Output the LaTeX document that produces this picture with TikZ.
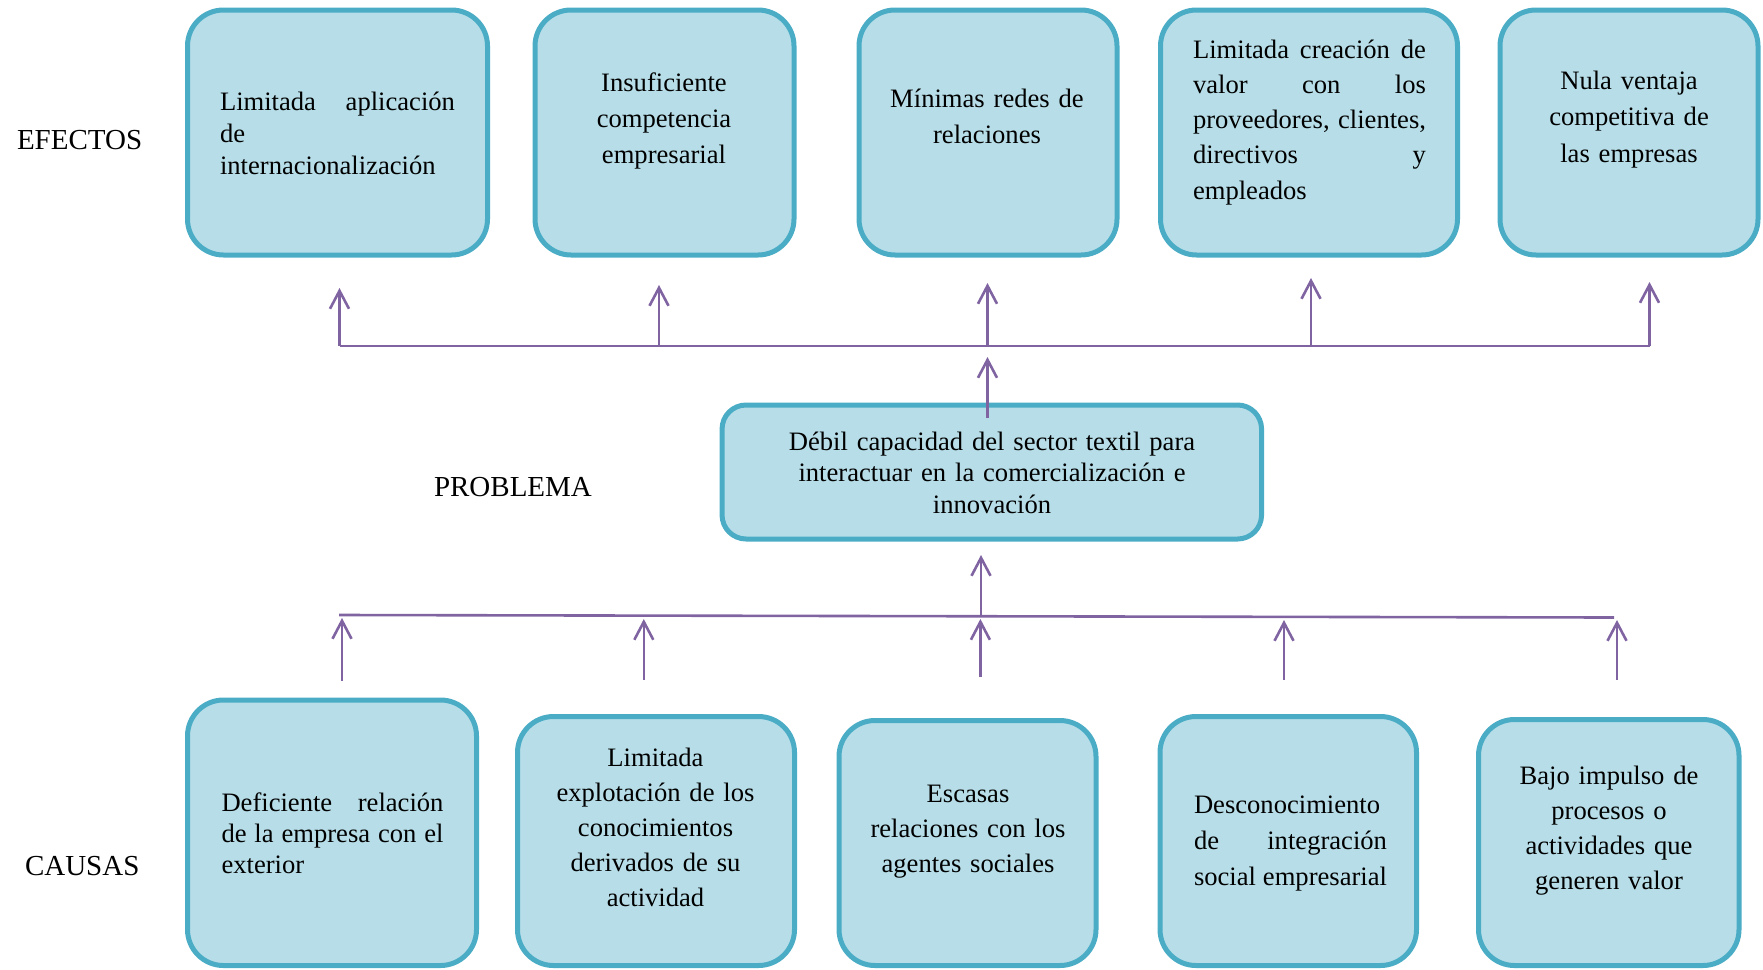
\documentclass[tikz,border=0pt]{standalone}
\usepackage{fontspec}
\setmainfont{Liberation Serif}
\usetikzlibrary{arrows.meta}
\definecolor{boxfill}{HTML}{B7DEE8}
\definecolor{boxline}{HTML}{4BACC6}
\definecolor{arrowc}{HTML}{8064A2}
\tikzset{
  card/.style={draw=boxline, fill=boxfill, line width=5pt, rounded corners=36pt, inner sep=0pt},
  midcard/.style={card, rounded corners=24pt},
  txt/.style={inner sep=0pt, outer sep=0pt, text=black},
  lbl/.style={txt, anchor=base west, font=\fontsize{29}{34}\selectfont},
  bus/.style={draw=arrowc, line width=2.6pt},
  uparrow/.style={draw=arrowc, line width=2.6pt, -{Straight Barb[length=18pt,width=19pt,line width=2.6pt]}}
}
\newcommand{\jl}[2]{\leavevmode\hbox to #1{#2}}
\begin{document}
\begin{tikzpicture}[x=1pt,y=-1pt]
\useasboundingbox (0,0) rectangle (1763,969);

% labels
\node[lbl] (lefe) at (17,149) {EFECTOS};
\node[lbl] (lpro) at (434,496.7) {PROBLEMA};
\node[lbl] (lcau) at (25,875) {CAUSAS};

% effect boxes
\node[card, minimum width=300pt, minimum height=245pt] (e1) at (337.5,132.5) {};
\node[card, minimum width=259pt, minimum height=245pt] (e2) at (664.5,132.5) {};
\node[card, minimum width=258pt, minimum height=245pt] (e3) at (988,132.5) {};
\node[card, minimum width=297pt, minimum height=245pt] (e4) at (1309,132.5) {};
\node[card, minimum width=258pt, minimum height=245pt] (e5) at (1629,132.5) {};

\node[txt, anchor=base west, text width=235pt, align=left, font=\fontsize{26.6}{32}\selectfont] (e1t) at (220,110.5)
  {\jl{235pt}{Limitada\hfill aplicación}\\de\\internacionalización};
\node[txt, anchor=base, text width=240pt, align=center, font=\fontsize{26.6}{36}\selectfont] (e2t) at (664,91)
  {Insuficiente\\competencia\\empresarial};
\node[txt, anchor=base, text width=240pt, align=center, font=\fontsize{26.6}{36}\selectfont] (e3t) at (987,107)
  {Mínimas redes de\\relaciones};
\node[txt, anchor=base west, text width=233pt, align=left, font=\fontsize{26.6}{35.3}\selectfont] (e4t) at (1193,58)
  {\jl{233pt}{Limitada\hfill creación\hfill de}\\\jl{233pt}{valor\hfill con\hfill los}\\\jl{233pt}{proveedores,\hfill clientes,}\\\jl{233pt}{directivos\hfill y}\\empleados};
\node[txt, anchor=base, text width=240pt, align=center, font=\fontsize{26.6}{36.5}\selectfont] (e5t) at (1629,89)
  {Nula ventaja\\competitiva de\\las empresas};

% problem box
\node[midcard, minimum width=539.5pt, minimum height=134pt] (pm) at (991.8,472) {};
\node[txt, anchor=base, text width=500pt, align=center, font=\fontsize{26.6}{31.6}\selectfont] (pmt) at (992,450)
  {Débil capacidad del sector textil para\\interactuar en la comercialización e\\innovación};

% cause boxes
\node[card, minimum width=289pt, minimum height=265.5pt] (c1) at (332,832.75) {};
\node[card, minimum width=277pt, minimum height=249pt] (c2) at (656,841) {};
\node[card, minimum width=257pt, minimum height=245pt] (c3) at (967.5,843) {};
\node[card, minimum width=256.5pt, minimum height=249pt] (c4) at (1288.25,841) {};
\node[card, minimum width=260.5pt, minimum height=246pt] (c5) at (1608.75,842.5) {};

\node[txt, anchor=base west, text width=222pt, align=left, font=\fontsize{26.6}{31}\selectfont] (c1t) at (221.5,811.7)
  {\jl{222pt}{Deficiente\hfill relación}\\\jl{222pt}{de\hfill la\hfill empresa\hfill con\hfill el}\\exterior};
\node[txt, anchor=base, text width=240pt, align=center, font=\fontsize{26.6}{35}\selectfont] (c2t) at (655.5,766)
  {Limitada\\explotación de los\\conocimientos\\derivados de su\\actividad};
\node[txt, anchor=base, text width=240pt, align=center, font=\fontsize{26.6}{35}\selectfont] (c3t) at (968,802.7)
  {Escasas\\relaciones con los\\agentes sociales};
\node[txt, anchor=base west, text width=193pt, align=left, font=\fontsize{26.6}{36}\selectfont] (c4t) at (1194,813)
  {Desconocimiento\\\jl{193pt}{de\hfill integración}\\\jl{193pt}{social\hfill empresarial}};
\node[txt, anchor=base, text width=240pt, align=center, font=\fontsize{26.6}{35.3}\selectfont] (c5t) at (1609,784)
  {Bajo impulso de\\procesos o\\actividades que\\generen valor};

% top bus and arrows to effects
\coordinate (tL) at (339.5,346);
\coordinate (tR) at (1649.5,346);
\coordinate (tb2) at (659,346);
\coordinate (tb3) at (987.5,346);
\coordinate (tb4) at (1311,346);
\coordinate (t1) at (339.5,288);
\coordinate (t2) at (659,285);
\coordinate (t3) at (987.5,283);
\coordinate (t4) at (1311,278);
\coordinate (t5) at (1649.5,282);
\draw[bus] (tL) -- (tR);
\draw[uparrow] (tL) -- (t1);
\draw[uparrow] (tb2) -- (t2);
\draw[uparrow] (tb3) -- (t3);
\draw[uparrow] (tb4) -- (t4);
\draw[uparrow] (tR) -- (t5);

% problem to effects
\coordinate (pin) at (987.5,418);
\coordinate (ptip) at (987.5,357);
\draw[uparrow] (pin) -- (ptip);

% bottom bus and arrows from causes
\coordinate (bL) at (339,615);
\coordinate (bR) at (1614,617.5);
\coordinate (bmid) at (981,616);
\coordinate (ptop) at (981,555);
\draw[bus] (bL) -- (bR);
\draw[uparrow] (bmid) -- (ptop);

\coordinate (s1) at (342,680.5);
\coordinate (s2) at (643.8,680);
\coordinate (s3) at (980.4,677);
\coordinate (s4) at (1284,680);
\coordinate (s5) at (1617,680);
\coordinate (h1) at (342,618);
\coordinate (h2) at (643.8,619);
\coordinate (h3) at (980.4,619);
\coordinate (h4) at (1284,620);
\coordinate (h5) at (1617,620);
\draw[uparrow] (s1) -- (h1);
\draw[uparrow] (s2) -- (h2);
\draw[uparrow] (s3) -- (h3);
\draw[uparrow] (s4) -- (h4);
\draw[uparrow] (s5) -- (h5);
\end{tikzpicture}
\end{document}
